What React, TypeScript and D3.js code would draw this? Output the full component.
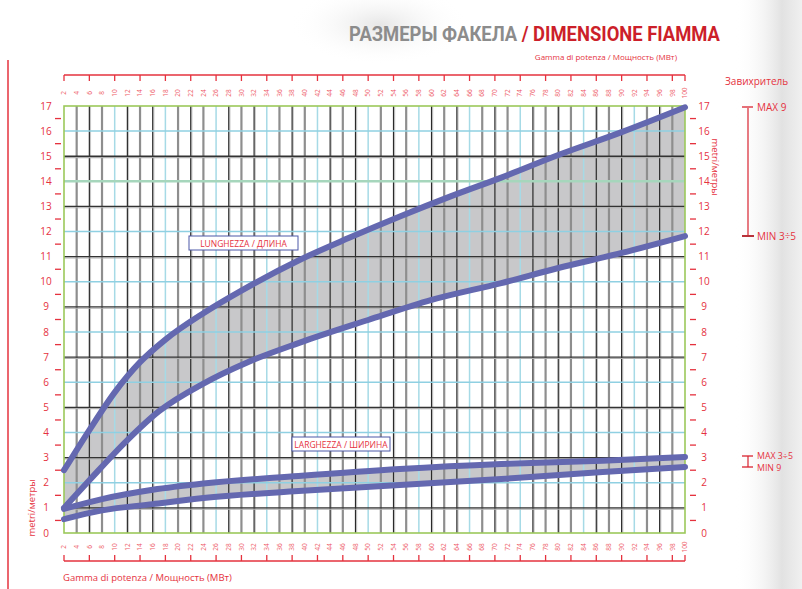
import * as d3 from 'd3';

// Gamma di potenza (MW) on x, metri on y
const xTicks = d3.range(2, 101, 2);
const axisMarks = [2, 6, 10, 14, 18, 22, 26, 30, 34, 38, 42, 46, 50, 54, 58, 62, 66, 70, 74, 78, 82, 86, 90, 94, 98, 100];
const blueCols = [10, 18, 26, 34, 42, 50, 58, 66, 74, 84, 92];
const yLabels = d3.range(0, 18);
const yDashes = d3.range(0.5, 17, 1);

// LUNGHEZZA / ДЛИНА
const lengthMaxMW = [2, 6, 10, 14, 18, 24, 30, 39, 47, 55, 63, 71, 80, 90, 100];
const lengthMax = [2.5, 4.1, 5.6, 6.8, 7.7, 8.75, 9.65, 10.85, 11.75, 12.6, 13.4, 14.15, 15.05, 15.96, 16.95];
const lengthMinMW = [2, 6, 12, 17, 24, 31, 39, 50, 60, 71, 80, 90, 100];
const lengthMin = [1.0, 2.1, 3.7, 4.85, 5.95, 6.8, 7.56, 8.48, 9.28, 9.95, 10.55, 11.15, 11.82];

// LARGHEZZA / ШИРИНА
const widthMW = [2, 8, 16, 24, 39, 55, 71, 87, 100];
const widthMax = [0.96, 1.35, 1.72, 1.97, 2.27, 2.55, 2.75, 2.88, 3.03];
const widthMin = [0.55, 0.9, 1.15, 1.39, 1.67, 1.91, 2.15, 2.43, 2.63];

const RED = '#e5323e';
const LINE = '#6468b0';
const FONT = "'Open Sans', 'Noto Sans', sans-serif";

const x = d3.scaleLinear().domain([2, 100]).range([64, 685]);
const y = d3.scaleLinear().domain([0, 17]).range([533, 106]);

const line = d3
  .line<[number, number]>()
  .x((d) => x(d[0]))
  .y((d) => y(d[1]))
  .curve(d3.curveMonotoneX);

const area = d3
  .area<[number, number]>()
  .x((d) => x(d[0]))
  .y0(y(0))
  .y1((d) => y(d[1]))
  .curve(d3.curveMonotoneX);

const pts = (mw: number[], v: number[]) => mw.map((m, i) => [m, v[i]] as [number, number]);

const App = () => {
  const lMax = pts(lengthMaxMW, lengthMax);
  const lMin = pts(lengthMinMW, lengthMin);
  const wMax = pts(widthMW, widthMax);
  const wMin = pts(widthMW, widthMin);

  let alt = 0;
  const cols = xTicks.slice(1, -1).map((v) => {
    if (blueCols.includes(v)) return { v, kind: 'blue' };
    alt++;
    return { v, kind: alt % 2 === 1 ? 'gray' : 'black' };
  });

  return (
    <svg width={802} height={589} style={{ position: 'absolute', left: 0, top: 0 }} fontFamily={FONT}>
      <defs>
        <linearGradient id="side" x1="0" x2="1" y1="0" y2="0">
          <stop offset="0" stopColor="#fff" stopOpacity="0" />
          <stop offset="0.7" stopColor="#e2e2e2" stopOpacity="1" />
          <stop offset="1" stopColor="#f0f0f0" stopOpacity="1" />
        </linearGradient>
        <radialGradient id="haze" cx="0.5" cy="0.5" r="0.5">
          <stop offset="0" stopColor="#e6e6e6" />
          <stop offset="1" stopColor="#fff" stopOpacity="0" />
        </radialGradient>
      </defs>
      <rect width={802} height={589} fill="#fff" />
      <rect x={735} y={0} width={67} height={589} fill="url(#side)" />
      <ellipse cx={380} cy={25} rx={90} ry={40} fill="url(#haze)" />

      {/* title */}
      <text x={349} y={41} fontFamily="'Liberation Sans Narrow', 'Roboto', sans-serif" fontWeight="bold" fontSize={20} textLength={371} lengthAdjust="spacingAndGlyphs">
        <tspan fill="#8c8c8c">РАЗМЕРЫ ФАКЕЛА </tspan>
        <tspan fill="#cc1f2a">/ DIMENSIONE FIAMMA</tspan>
      </text>
      <text x={677} y={60} textAnchor="end" fontSize={8} fill={RED}>
        Gamma di potenza / Мощность (МВт)
      </text>
      <text x={725} y={85} fontSize={10} fill={RED}>Завихритель</text>

      {/* page frame line */}
      <line x1={8} x2={8} y1={60} y2={589} stroke={RED} strokeWidth={1.5} />

      {/* bands: gray under upper curve, white under lower curve */}
      <path d={area(lMax) || ''} fill="#c8c8ca" />
      <path d={area(lMin) || ''} fill="#fff" />
      <path d={area(wMax) || ''} fill="#c8c8ca" />
      <path d={area(wMin) || ''} fill="#fff" />

      {/* grid */}
      {cols.map((c) =>
        c.kind === 'blue' ? (
          <line key={c.v} x1={x(c.v)} x2={x(c.v)} y1={y(17)} y2={y(0)} stroke="#a6dae6" strokeWidth={1.5} />
        ) : c.kind === 'gray' ? (
          <line key={c.v} x1={x(c.v)} x2={x(c.v)} y1={y(17)} y2={y(0)} stroke="#8e8e8e" strokeWidth={2.2} />
        ) : (
          <g key={c.v}>
            <line x1={x(c.v) + 1.2} x2={x(c.v) + 1.2} y1={y(17)} y2={y(0)} stroke="#c4c4c4" strokeWidth={1} />
            <line x1={x(c.v)} x2={x(c.v)} y1={y(17)} y2={y(0)} stroke="#2a2a2a" strokeWidth={1.2} />
          </g>
        )
      )}
      {d3.range(1, 17).map((v) =>
        v % 2 === 1 ? (
          <g key={v}>
            <line x1={x(2)} x2={x(100)} y1={y(v) + 1.3} y2={y(v) + 1.3} stroke="#b0b0b0" strokeWidth={1.2} />
            <line x1={x(2)} x2={x(100)} y1={y(v)} y2={y(v)} stroke="#333" strokeWidth={1.3} />
          </g>
        ) : (
          <line key={v} x1={x(2)} x2={x(100)} y1={y(v)} y2={y(v)} stroke={v === 14 ? '#a6d6bc' : '#8fd0e2'} strokeWidth={v === 14 ? 2.5 : 1.5} />
        )
      )}
      <rect x={x(2)} y={y(17)} width={x(100) - x(2)} height={y(0) - y(17)} fill="none" stroke="#9cc95a" strokeWidth={1.6} />

      {/* curves */}
      {[lMax, lMin, wMax, wMin].map((p, i) => (
        <path key={i} d={line(p) || ''} fill="none" stroke={LINE} strokeWidth={6} strokeLinecap="round" />
      ))}

      {/* legend boxes */}
      <rect x={189} y={236} width={109} height={14} fill="#fff" stroke="#4d58a8" strokeWidth={1} />
      <text x={243.5} y={246.5} textAnchor="middle" fontSize={8.5} fill={RED}>LUNGHEZZA / ДЛИНА</text>
      <rect x={292} y={437} width={98} height={14} fill="#fff" stroke="#4d58a8" strokeWidth={1} />
      <text x={341} y={447.5} textAnchor="middle" fontSize={8.5} fill={RED}>LARGHEZZA / ШИРИНА</text>

      {/* y axes */}
      {yLabels.map((v) => (
        <g key={v} fontSize={10} fill={RED} textAnchor="middle">
          <text x={46} y={y(v) + 3.5}>{v}</text>
          <text x={704} y={y(v) + 3.5}>{v}</text>
        </g>
      ))}
      {yDashes.map((v) => (
        <g key={v} stroke={RED} strokeWidth={1.3}>
          <line x1={55} x2={61} y1={y(v)} y2={y(v)} />
          <line x1={690} x2={696} y1={y(v)} y2={y(v)} />
        </g>
      ))}
      <text transform="translate(35,508) rotate(-90)" textAnchor="middle" fontSize={9.5} fill={RED}>metri/метры</text>
      <text transform="translate(712,167) rotate(90)" textAnchor="middle" fontSize={9.5} fill={RED}>metri/метры</text>

      {/* x axes, top and bottom */}
      {xTicks.map((v) => (
        <g key={v} fontSize={6.5} fill="#ee5a66" textAnchor="middle">
          <text transform={`translate(${x(v) + 2.2},93) rotate(-90)`}>{v}</text>
          <text transform={`translate(${x(v) + 2.2},547) rotate(-90)`}>{v}</text>
        </g>
      ))}
      <g stroke={RED} strokeWidth={1.3} fill="none">
        <line x1={x(2)} x2={x(100)} y1={75} y2={75} />
        <line x1={x(2)} x2={x(100)} y1={561} y2={561} />
        {axisMarks.map((v) => (
          <g key={v}>
            <line x1={x(v)} x2={x(v)} y1={75} y2={81} />
            <line x1={x(v)} x2={x(v)} y1={555} y2={561} />
          </g>
        ))}
      </g>
      <text x={63} y={581} fontSize={9.5} fill={RED}>Gamma di potenza / Мощность (МВт)</text>

      {/* swirler ranges */}
      <g stroke="#d8232f" fill="none">
        <line x1={742} x2={753} y1={107} y2={107} strokeWidth={1.3} />
        <line x1={748} x2={748} y1={108} y2={235} strokeWidth={1.2} />
        <line x1={742} x2={754} y1={236} y2={236} strokeWidth={2} stroke="#b8323a" />
        <line x1={742} x2={753} y1={456} y2={456} strokeWidth={1.3} />
        <line x1={748} x2={748} y1={456} y2={467} strokeWidth={1.2} />
        <line x1={742} x2={753} y1={467} y2={467} strokeWidth={1.3} />
      </g>
      <g fontSize={10} fill={RED}>
        <text x={757} y={110.5}>MAX 9</text>
        <text x={757} y={239.5}>MIN 3÷5</text>
      </g>
      <g fontSize={8.8} fill={RED}>
        <text x={757} y={458.5}>MAX 3÷5</text>
        <text x={757} y={471}>MIN 9</text>
      </g>
    </svg>
  );
};

export default App;
